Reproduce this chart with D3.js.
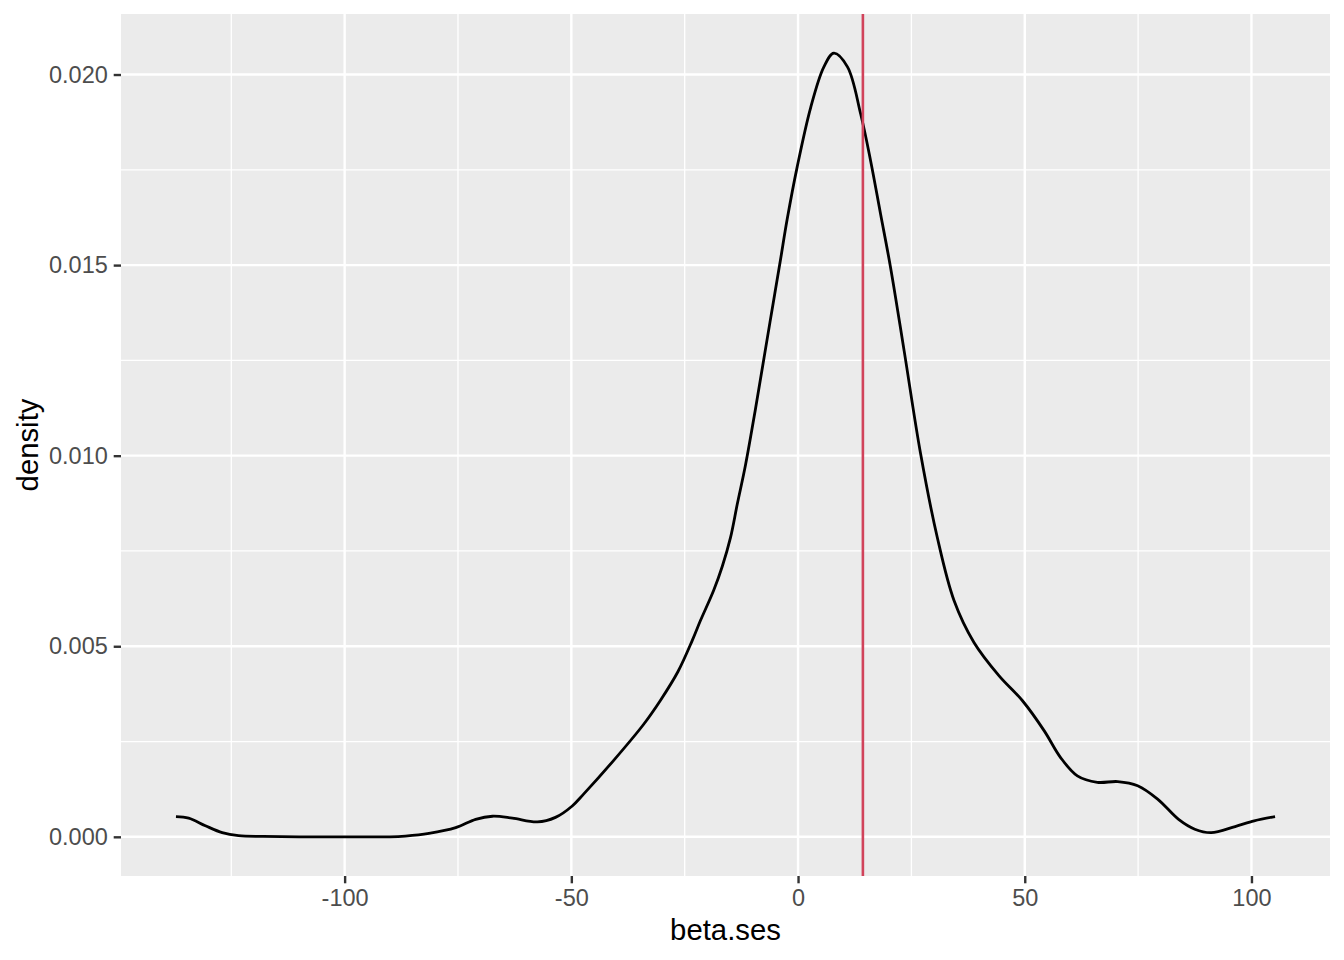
<!DOCTYPE html>
<html>
<head>
<meta charset="utf-8">
<script src="https://cdn.jsdelivr.net/npm/d3@7"></script>
<style>
  body { margin: 0; background: #fff; }
  svg { display: block; font-family: "Liberation Sans", Arial, sans-serif; }
</style>
</head>
<body>
<svg width="1344" height="960"></svg>
<script>
// density estimate of beta.ses
const betaSes = [-137.2, -134.4, -130.7, -127, -123.4, -118, -110, -100, -90, -86.6, -81.4, -75.5,
  -71.1, -67.4, -63, -57.5, -53.5, -49.8, -47.3, -40.7, -34, -30.4, -26.5, -23.3, -21.5, -18.6, -16.7,
  -14.9, -13.4, -11.6, -9.4, -7.5, -5.7, -3.9, -2.4, -0.2, 2.8, 5.7, 7.9, 10.9, 13.8, 16, 18.2, 20.4,
  23.4, 27, 30.7, 34.4, 38.8, 44.3, 49.5, 54.3, 57.9, 61.6, 66, 70.5, 74.9, 79.3, 84, 87.5,
  91.1, 96.4, 100.6, 105.2]
const density = [0.00053, 0.00049, 0.00029, 0.00011, 0.00003, 0.00001, 0, 0, 0, 0.00002, 0.00009, 0.00024,
  0.00046, 0.00054, 0.00049, 0.00039, 0.00051, 0.00081, 0.00112, 0.002, 0.00296, 0.00357, 0.00433, 0.00516, 0.00568, 0.00647, 0.0071,
  0.00785, 0.00873, 0.00975, 0.01122, 0.01257, 0.01385, 0.01512, 0.0162, 0.01757, 0.01914, 0.0202, 0.02056, 0.0202, 0.01897, 0.01774, 0.01634, 0.01494,
  0.01275, 0.01007, 0.00786, 0.0062, 0.0051, 0.00423, 0.00357, 0.00278, 0.00208, 0.0016, 0.00143, 0.00145, 0.00134, 0.00099, 0.00045, 0.0002,
  0.00011, 0.00027, 0.00042, 0.00053]
const vline = [14.3]

const xBreaks = [-100, -50, 0, 50, 100]
const xMinor = [-125, -75, -25, 25, 75]
const yBreaks = [0, 0.005, 0.01, 0.015, 0.02]
const yMinor = [0.0025, 0.0075, 0.0125, 0.0175]

const pts = betaSes.map((x, i) => ({x: x, y: density[i]}))

const pLeft = 121, pRight = 1330, pTop = 14, pBottom = 876

// ggplot style 5% expansion
const xExt = d3.extent(betaSes), xPad = (xExt[1] - xExt[0]) * 0.05
const yExt = [0, d3.max(density)], yPad = (yExt[1] - yExt[0]) * 0.05

const xScale = d3.scaleLinear()
    .domain([xExt[0] - xPad, xExt[1] + xPad])
    .range([pLeft, pRight])

const yScale = d3.scaleLinear()
    .domain([yExt[0] - yPad, yExt[1] + yPad])
    .range([pBottom, pTop])

const svg = d3.select('svg')

svg.append('rect')
    .attr('x', pLeft).attr('y', pTop)
    .attr('width', pRight - pLeft).attr('height', pBottom - pTop)
    .attr('fill', '#ebebeb')

// grid
const grid = svg.append('g')
grid.selectAll('.xminor').data(xMinor).enter().append('line')
    .attr('x1', d => xScale(d)).attr('x2', d => xScale(d))
    .attr('y1', pTop).attr('y2', pBottom)
    .attr('stroke', '#fff').attr('stroke-width', 1.3)
grid.selectAll('.yminor').data(yMinor).enter().append('line')
    .attr('y1', d => yScale(d)).attr('y2', d => yScale(d))
    .attr('x1', pLeft).attr('x2', pRight)
    .attr('stroke', '#fff').attr('stroke-width', 1.3)
grid.selectAll('.xmajor').data(xBreaks).enter().append('line')
    .attr('x1', d => xScale(d)).attr('x2', d => xScale(d))
    .attr('y1', pTop).attr('y2', pBottom)
    .attr('stroke', '#fff').attr('stroke-width', 2.4)
grid.selectAll('.ymajor').data(yBreaks).enter().append('line')
    .attr('y1', d => yScale(d)).attr('y2', d => yScale(d))
    .attr('x1', pLeft).attr('x2', pRight)
    .attr('stroke', '#fff').attr('stroke-width', 2.4)

// density curve
const line = d3.line()
    .x(d => xScale(d.x))
    .y(d => yScale(d.y))
    .curve(d3.curveCatmullRom.alpha(0.5))

svg.append('path')
    .datum(pts)
    .attr('d', line)
    .attr('fill', 'none')
    .attr('stroke', '#000')
    .attr('stroke-width', 2.8)
    .attr('stroke-linejoin', 'round')

svg.selectAll('.vline').data(vline).enter().append('line')
    .attr('x1', d => xScale(d)).attr('x2', d => xScale(d))
    .attr('y1', pTop).attr('y2', pBottom)
    .attr('stroke', '#d1435b')
    .attr('stroke-width', 2.6)

// axes
const xAxis = d3.axisBottom(xScale).tickValues(xBreaks).tickSize(7.3).tickPadding(5.9).tickFormat(d => String(d))
const yAxis = d3.axisLeft(yScale).tickValues(yBreaks).tickSize(7.3).tickPadding(5.9).tickFormat(d3.format('.3f'))

const gx = svg.append('g').attr('transform', `translate(0,${pBottom})`).call(xAxis)
const gy = svg.append('g').attr('transform', `translate(${pLeft},0)`).call(yAxis)

for (const g of [gx, gy]) {
  g.select('.domain').remove()
  g.selectAll('.tick line').attr('stroke', '#333').attr('stroke-width', 2.4)
  g.selectAll('.tick text')
      .attr('fill', '#4d4d4d')
      .style('font-size', '23.5px')
      .style('font-family', '"Liberation Sans", Arial, sans-serif')
}

svg.append('text')
    .attr('x', (pLeft + pRight) / 2).attr('y', 940)
    .attr('text-anchor', 'middle')
    .style('font-size', '29.3px')
    .text('beta.ses')

svg.append('text')
    .attr('transform', `translate(37.5,${(pTop + pBottom) / 2}) rotate(-90)`)
    .attr('text-anchor', 'middle')
    .style('font-size', '29.3px')
    .text('density')
</script>
</body>
</html>
